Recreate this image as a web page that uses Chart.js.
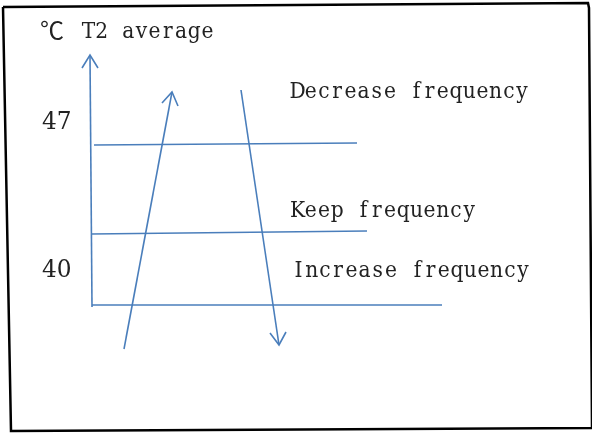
<!DOCTYPE html>
<html>
<head>
<meta charset="utf-8">
<script src="https://cdn.jsdelivr.net/npm/chart.js@4.4.0/dist/chart.umd.min.js"></script>
<style>
  html, body { margin: 0; padding: 0; background: #ffffff; }
  #wrap { width: 592px; height: 433px; position: relative; }
</style>
</head>
<body>
<div id="wrap"><canvas id="diagram"></canvas></div>
<script>
// Sketch coordinates (x right, y down)
const axisLine = [{x: 92, y: 307}, {x: 90, y: 56}];
const axisHead = [{x: 82, y: 68}, {x: 90, y: 55}, {x: 98, y: 68}];

const upperBand = [{x: 94, y: 145}, {x: 357, y: 143}];
const middleBand = [{x: 91, y: 234}, {x: 367, y: 231}];
const lowerBand = [{x: 92, y: 305}, {x: 442, y: 305}];

const riseLine = [{x: 124, y: 349}, {x: 172, y: 92}];
const riseHead = [{x: 162, y: 103}, {x: 172, y: 92}, {x: 178, y: 106}];

const fallLine = [{x: 241, y: 90}, {x: 279, y: 345}];
const fallHead = [{x: 270, y: 333}, {x: 279, y: 345}, {x: 286, y: 332}];

const frameLine = [{x: 3, y: 7}, {x: 588, y: 3}, {x: 589, y: 8}, {x: 592, y: 428},
                   {x: 11, y: 431}, {x: 3, y: 7}];

const tickLabels = ['47', '40'];
const zoneLabels = ['Decrease frequency', 'Keep frequency', 'Increase frequency'];
const axisTitle = '℃ T2 average';

const blue = '#4a7ebb';

function seg(data, color, width) {
    return {
        data: data,
        showLine: true,
        borderColor: color,
        borderWidth: width,
        pointRadius: 0,
        fill: false,
        tension: 0,
        clip: false
    };
}

// text placed in the same coordinate system
const textPlugin = {
    id: 'sketchText',
    afterDatasetsDraw(chart) {
        const { ctx, scales } = chart;
        const px = v => scales.x.getPixelForValue(v);
        const py = v => scales.y.getPixelForValue(v);
        // serif glyphs on a fixed advance, like a mincho font's latin
        const mono = (txt, x, y) => {
            ctx.font = '23px "DejaVu Serif", serif';
            ctx.textAlign = 'center';
            const step = 13.2;
            [...txt].forEach((ch, i) => {
                ctx.save();
                ctx.translate(px(x + step * i + step / 2), py(y));
                ctx.scale(0.88, 1);
                ctx.fillText(ch, 0, 0);
                ctx.restore();
            });
        };
        const tick = (txt, x, y) => {
            ctx.save();
            ctx.font = '25px "DejaVu Serif", serif';
            ctx.textAlign = 'left';
            ctx.translate(px(x), py(y));
            ctx.scale(0.93, 1);
            ctx.fillText(txt, 0, 0);
            ctx.restore();
        };
        ctx.save();
        ctx.fillStyle = '#222222';
        ctx.textBaseline = 'alphabetic';
        ctx.textAlign = 'left';
        ctx.font = '24px "Noto Sans CJK SC", sans-serif';
        ctx.fillText(axisTitle.slice(0, 1), px(40), py(39));
        mono(axisTitle.slice(2), 82, 38);
        tick(tickLabels[0], 42, 129);
        tick(tickLabels[1], 42, 277);
        mono(zoneLabels[0], 291, 98);
        mono(zoneLabels[1], 291, 217);
        mono(zoneLabels[2], 292, 277);
        ctx.restore();
    }
};

new Chart(document.getElementById('diagram'), {
    type: 'scatter',
    data: {
        datasets: [
            seg(frameLine, '#000000', 2.5),
            seg(axisLine, blue, 1.6),
            seg(axisHead, blue, 1.6),
            seg(upperBand, blue, 1.6),
            seg(middleBand, blue, 1.6),
            seg(lowerBand, blue, 1.6),
            seg(riseLine, blue, 1.6),
            seg(riseHead, blue, 1.6),
            seg(fallLine, blue, 1.6),
            seg(fallHead, blue, 1.6)
        ]
    },
    plugins: [textPlugin],
    options: {
        responsive: true,
        maintainAspectRatio: false,
        animation: false,
        layout: { padding: 0 },
        scales: {
            x: { type: 'linear', min: 0, max: 592, display: false },
            y: { type: 'linear', min: 0, max: 433, reverse: true, display: false }
        },
        plugins: {
            legend: { display: false },
            tooltip: { enabled: false }
        }
    }
});
</script>
</body>
</html>
